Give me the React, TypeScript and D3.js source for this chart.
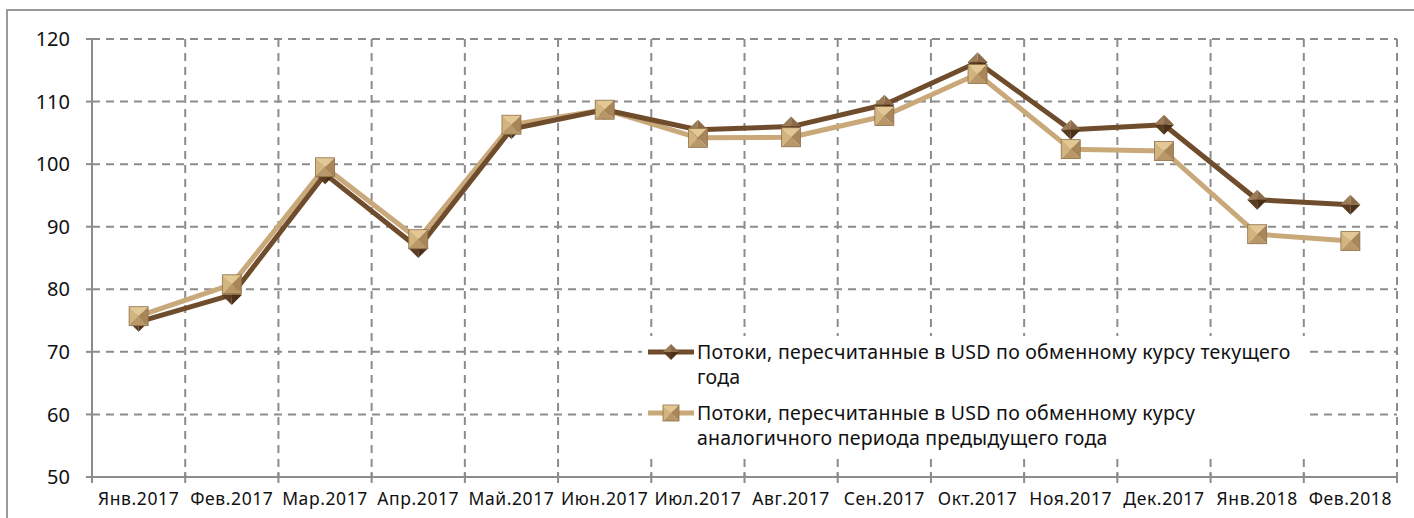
import React from "react";
import * as d3 from "d3";

const months = [
  "Янв.2017", "Фев.2017", "Мар.2017", "Апр.2017", "Май.2017", "Июн.2017", "Июл.2017",
  "Авг.2017", "Сен.2017", "Окт.2017", "Ноя.2017", "Дек.2017", "Янв.2018", "Фев.2018",
];
const currentRate = [74.8, 79.1, 98.4, 86.6, 105.6, 108.7, 105.5, 106, 109.5, 116.3, 105.5, 106.3, 94.3, 93.5];
const prevRate = [75.7, 80.8, 99.5, 88, 106.3, 108.7, 104.2, 104.3, 107.7, 114.4, 102.4, 102.1, 88.8, 87.7];
const yTicks = [50, 60, 70, 80, 90, 100, 110, 120];
const legend1 = ["Потоки, пересчитанные в USD по обменному курсу текущего", "года"];
const legend2 = ["Потоки, пересчитанные в USD по обменному курсу", "аналогичного периода предыдущего года"];

const W = 1414;
const H = 518;
const margin = { left: 92, right: 17, top: 39, bottom: 41 };
const dark = "#6e4c2c";
const light = "#c9a97a";
const grid = "#8c8c8c";
const font = "'Noto Sans', sans-serif";

const Diamond = ({ x, y, s = 10 }: { x: number; y: number; s?: number }) => (
  <g transform={`translate(${x},${y})`}>
    <path d={`M0,${-s} L${s},0 L0,0 Z`} fill="#8a6a48" />
    <path d={`M0,${-s} L${-s},0 L0,0 Z`} fill="#9c7b57" />
    <path d={`M${-s},0 L0,${s} L0,0 Z`} fill="#5a3c20" />
    <path d={`M${s},0 L0,${s} L0,0 Z`} fill="#4a3018" />
  </g>
);

const Square = ({ x, y, s = 10 }: { x: number; y: number; s?: number }) => (
  <g transform={`translate(${x},${y})`}>
    <path d={`M${-s},${-s} L${s},${-s} L0,0 Z`} fill="#e2c894" />
    <path d={`M${-s},${-s} L${-s},${s} L0,0 Z`} fill="#d2b47f" />
    <path d={`M${s},${-s} L${s},${s} L0,0 Z`} fill="#a8865a" />
    <path d={`M${-s},${s} L${s},${s} L0,0 Z`} fill="#b89868" />
    <rect x={-s} y={-s} width={2 * s} height={2 * s} fill="none" stroke="#8f7048" strokeWidth={0.8} />
  </g>
);

export default function App() {
  const x = d3.scaleBand().domain(months).range([margin.left, W - margin.right]);
  const y = d3.scaleLinear().domain([50, 120]).range([H - margin.bottom, margin.top]);
  const cx = (m: string) => (x(m) as number) + x.bandwidth() / 2;
  const line = d3.line<number>().x((_, i) => cx(months[i])).y((d) => y(d));
  const x0 = margin.left;
  const x1 = W - margin.right;
  const yb = y(50);
  const yt = y(120);
  const bounds = months.map((m) => (x(m) as number) + x.bandwidth());

  return (
    <svg width={W} height={H} style={{ position: "absolute", left: 0, top: 0, background: "#fff" }}>
      <rect x={7} y={10} width={W + 20} height={H + 20} fill="#fff" stroke="#9a9a9a" strokeWidth={2} />
      {/* horizontal grid */}
      {yTicks.filter((t) => t > 50).map((t) => (
        <line key={t} x1={x0} x2={x1} y1={y(t)} y2={y(t)} stroke={grid} strokeWidth={2} strokeDasharray="8,6" />
      ))}
      {/* vertical grid */}
      {bounds.map((b, i) => (
        <line key={i} x1={b} x2={b} y1={yt} y2={yb} stroke={grid} strokeWidth={2} strokeDasharray="8,6" />
      ))}
      {/* axes */}
      <line x1={x0} x2={x0} y1={yt} y2={yb} stroke={grid} strokeWidth={2} />
      <line x1={x0} x2={x1} y1={yb} y2={yb} stroke={grid} strokeWidth={2} />
      {yTicks.map((t) => (
        <g key={t}>
          <line x1={x0 - 6} x2={x0} y1={y(t)} y2={y(t)} stroke={grid} strokeWidth={2} />
          <text x={70} y={y(t)} dy="0.36em" textAnchor="end" fontFamily={font} fontSize={20} fill="#111">
            {t}
          </text>
        </g>
      ))}
      {[x0, ...bounds].map((b, i) => (
        <line key={i} x1={b} x2={b} y1={yb - 5} y2={yb + 6} stroke={grid} strokeWidth={2} />
      ))}
      {months.map((m) => (
        <text key={m} x={cx(m)} y={505} textAnchor="middle" fontFamily={font} fontSize={17.5} letterSpacing={0.6} fill="#111">
          {m}
        </text>
      ))}
      {/* series */}
      <path d={line(prevRate) || ""} fill="none" stroke={light} strokeWidth={5} strokeLinejoin="round" />
      <path d={line(currentRate) || ""} fill="none" stroke={dark} strokeWidth={5} strokeLinejoin="round" />
      {currentRate.map((v, i) => (
        <Diamond key={"d" + i} x={cx(months[i])} y={y(v)} />
      ))}
      {prevRate.map((v, i) => (
        <Square key={"s" + i} x={cx(months[i])} y={y(v)} s={9.5} />
      ))}
      {/* legend */}
      <rect x={642} y={336} width={668} height={118} fill="#fff" />
      <line x1={648} x2={694} y1={352} y2={352} stroke={dark} strokeWidth={5} />
      <Diamond x={671} y={352} s={8} />
      {legend1.map((t, i) => (
        <text key={i} x={697} y={352 + i * 25} dy="0.36em" fontFamily={font} fontSize={19.5} letterSpacing={0.25} fill="#111">
          {t}
        </text>
      ))}
      <line x1={648} x2={694} y1={413} y2={413} stroke={light} strokeWidth={5} />
      <Square x={671} y={413} s={8} />
      {legend2.map((t, i) => (
        <text key={i} x={697} y={413 + i * 25} dy="0.36em" fontFamily={font} fontSize={19.5} letterSpacing={0.25} fill="#111">
          {t}
        </text>
      ))}
    </svg>
  );
}
